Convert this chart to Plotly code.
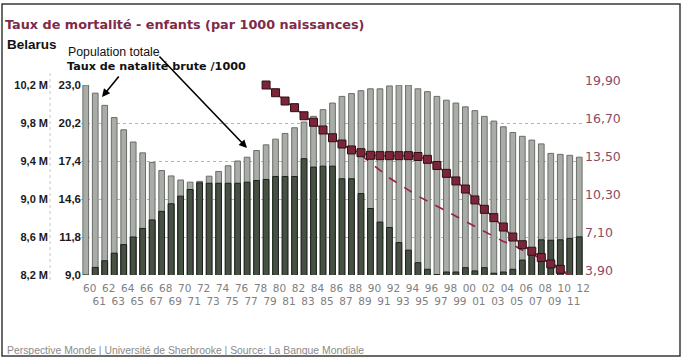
import plotly.graph_objects as go

years = list(range(1960, 2013))

population_m = [8.20, 8.28, 8.35, 8.43, 8.52, 8.60, 8.69, 8.78, 8.87, 8.95,
                9.03, 9.10, 9.17, 9.24, 9.29, 9.35, 9.40, 9.44, 9.51, 9.57,
                9.63, 9.69, 9.75, 9.81, 9.87, 9.94, 10.01, 10.08, 10.11, 10.14,
                10.16, 10.16, 10.19, 10.20, 10.20, 10.16, 10.13, 10.08, 10.04, 10.01,
                9.97, 9.93, 9.87, 9.82, 9.76, 9.70, 9.66, 9.62, 9.58, 9.48,
                9.47, 9.46, 9.44]

birth_rate = [23.0, 22.4, 21.5, 20.6, 19.7, 18.8, 18.0, 17.3, 16.7, 16.3,
              16.0, 15.84, 15.9, 15.76, 15.76, 15.76, 15.76, 15.84, 15.96, 16.04,
              16.26, 16.26, 16.26, 17.57, 16.95, 17.02, 17.02, 16.09, 16.09, 15.0,
              13.9, 12.9, 12.5, 11.39, 10.83, 9.91, 9.42, 9.03, 9.22, 9.22,
              9.54, 9.30, 9.54, 9.13, 9.22, 9.42, 10.1, 10.93, 11.59, 11.56,
              11.59, 11.70, 11.81]

mort_years = list(range(1979, 2012))
infant_mortality = [19.9, 19.25, 18.55, 17.99, 17.31, 16.76, 16.11, 15.46, 14.93, 14.43,
                    14.2, 13.98, 13.95, 13.95, 13.95, 13.95, 13.88, 13.64, 13.12, 12.46,
                    11.82, 11.14, 10.22, 9.43, 8.73, 7.94, 7.1, 6.45, 5.9, 5.37,
                    4.83, 4.38, 3.76]

trend_years = list(range(1989, 2012))
trend_values = [14.0, 13.33, 12.66, 12.07, 11.56, 11.06, 10.55, 10.13, 9.71, 9.29,
                8.87, 8.45, 8.03, 7.61, 7.12, 6.72, 6.43, 6.01, 5.67, 5.25,
                4.91, 4.49, 3.8]

pop_ticks = [8.2, 8.6, 9.0, 9.4, 9.8, 10.2]
pop_ticktext = ["8,2 M", "8,6 M", "9,0 M", "9,4 M", "9,8 M", "10,2 M"]
birth_ticks = [9.0, 11.8, 14.6, 17.4, 20.2, 23.0]
birth_ticktext = ["9,0", "11,8", "14,6", "17,4", "20,2", "23,0"]
mort_ticks = [3.9, 7.1, 10.3, 13.5, 16.7, 19.9]
mort_ticktext = ["3,90", "7,10", "10,30", "13,50", "16,70", "19,90"]

year_ticktext = [(str(y)[2:] if y % 2 == 0 else "\u00a0<br>" + str(y)[2:]) for y in years]

LIGHT = "#a9ada7"
LIGHT_LINE = "#6a6d68"
DARK = "#465043"
DARK_LINE = "#1c201b"
MAROON = "#7c2438"

W, H = 684, 359
ML, MR, MT, MB = 0, 100, 85, 84
PW = W - ML - MR
PH = H - MT - MB


def px(x):
    return (x - ML) / PW


def py(y):
    return (H - MB - y) / PH


pop_n = [(p - pop_ticks[0]) / (pop_ticks[-1] - pop_ticks[0]) for p in population_m]
birth_n = [(b - birth_ticks[0]) / (birth_ticks[-1] - birth_ticks[0]) for b in birth_rate]
pop_taller = [a >= b for a, b in zip(pop_n, birth_n)]

fig = go.Figure()

fig.add_trace(go.Bar(
    x=years, y=population_m, yaxis="y", width=0.6,
    marker=dict(color=[LIGHT if t else DARK for t in pop_taller],
                line=dict(color=[LIGHT_LINE if t else DARK_LINE for t in pop_taller], width=1)),
    hoverinfo="skip", showlegend=False))

fig.add_trace(go.Bar(
    x=years, y=birth_rate, yaxis="y2", width=0.6,
    marker=dict(color=[DARK if t else LIGHT for t in pop_taller],
                line=dict(color=[DARK_LINE if t else LIGHT_LINE for t in pop_taller], width=1)),
    hoverinfo="skip", showlegend=False))

fig.add_trace(go.Bar(
    x=years, y=[None if t else p for p, t in zip(population_m, pop_taller)], yaxis="y3", width=0.6,
    marker=dict(color=DARK, line=dict(color=DARK_LINE, width=1)),
    hoverinfo="skip", showlegend=False))

fig.add_trace(go.Scatter(
    x=trend_years, y=trend_values, yaxis="y4", mode="lines",
    line=dict(color="#9c1f45", width=1.6, dash="dash"),
    hoverinfo="skip", showlegend=False))

fig.add_trace(go.Scatter(
    x=mort_years, y=infant_mortality, yaxis="y4", mode="lines+markers",
    line=dict(color="#8a2a44", width=1.5),
    marker=dict(symbol="square", size=8,
                color=[MAROON] * (len(mort_years) - 1) + ["#c9a3ae"],
                line=dict(color="#2c1016", width=1)),
    cliponaxis=False, hoverinfo="skip", showlegend=False))

fig.update_layout(
    width=W, height=H,
    margin=dict(l=ML, r=MR, t=MT, b=MB, autoexpand=False),
    paper_bgcolor="white", plot_bgcolor="white",
    barmode="overlay", bargap=0.4,
    title=dict(text="Taux de mortalité - enfants (par 1000 naissances)",
               x=5 / W, xref="container", xanchor="left",
               y=1 - 25 / H, yref="container", yanchor="middle",
               font=dict(family="DejaVu Sans", size=12.8, color="#7e2a48", weight="bold")),
    xaxis=dict(domain=[px(81), 1], range=[1959.5, 2012.5],
               tickmode="array", tickvals=years, ticktext=year_ticktext,
               tickfont=dict(family="DejaVu Sans", size=10.5, color="#808080"),
               ticks="", showgrid=False, zeroline=False, showline=False,
               ticklabelshift=4, ticklabelstandoff=5, automargin=False, tickangle=0),
    yaxis=dict(range=[pop_ticks[0], pop_ticks[-1]], anchor="free", position=px(48), side="left",
               tickmode="array", tickvals=pop_ticks, ticktext=["<b>" + t + "</b>" for t in pop_ticktext],
               tickfont=dict(family="Liberation Sans", size=11, color="#1a1a1a"),
               ticks="", showgrid=False, zeroline=False, showline=False, automargin=False),
    yaxis2=dict(range=[birth_ticks[0], birth_ticks[-1]], overlaying="y", anchor="free",
                position=px(81), side="left",
                tickmode="array", tickvals=birth_ticks, ticktext=["<b>" + t + "</b>" for t in birth_ticktext],
                tickfont=dict(family="Liberation Sans", size=11.5, color="#1a1a1a"),
                ticks="", showgrid=True, gridcolor="#b4b4b4", griddash="dot", gridwidth=1,
                zeroline=False, showline=False, automargin=False),
    yaxis3=dict(range=[pop_ticks[0], pop_ticks[-1]], overlaying="y", visible=False),
    yaxis4=dict(range=[mort_ticks[0], mort_ticks[-1]], overlaying="y", anchor="x", side="right",
                tickmode="array", tickvals=mort_ticks, ticktext=mort_ticktext,
                tickfont=dict(family="DejaVu Sans", size=12.5, color="#8b4c62"),
                ticks="", showgrid=False, zeroline=False, showline=False, automargin=False,
                ticklabelshift=-4),
)

fig.add_shape(type="rect", xref="paper", yref="paper",
              x0=px(2), x1=px(680), y0=py(356), y1=py(4),
              line=dict(color="#3a3a3a", width=1.5), layer="above")
fig.add_shape(type="line", xref="paper", yref="paper",
              x0=px(50), x1=px(50), y0=py(280), y1=py(72),
              line=dict(color="#c8c8c8", width=1, dash="dot"), layer="below")

annotations = [
    dict(text="Belarus", x=px(5), y=py(44), font=dict(family="Liberation Sans", size=13.5, color="#111", weight="bold")),
    dict(text="Population totale", x=px(66), y=py(52), font=dict(family="Liberation Sans", size=12.3, color="#111")),
    dict(text="Taux de natalité brute /1000", x=px(65), y=py(67),
         font=dict(family="DejaVu Sans", size=11.2, color="#111", weight="bold")),
    dict(text="Perspective Monde | Université de Sherbrooke | Source: La Banque Mondiale",
         x=px(5), y=py(350), font=dict(family="Liberation Sans", size=10.4, color="#8a8a8a")),
]
for a in annotations:
    fig.add_annotation(xref="paper", yref="paper", xanchor="left", yanchor="middle",
                       showarrow=False, **a)

for head, tail in [((102, 97), (120, 75)), ((247, 148), (158, 55))]:
    fig.add_annotation(xref="paper", yref="paper", x=px(head[0]), y=py(head[1]),
                       ax=tail[0] - head[0], ay=tail[1] - head[1], axref="pixel", ayref="pixel",
                       text="", showarrow=True, arrowhead=2, arrowsize=1, arrowwidth=1.6,
                       arrowcolor="#000")

fig.write_html("out.html", config={"displayModeBar": False},
               post_script="document.body.style.margin='0px';")
